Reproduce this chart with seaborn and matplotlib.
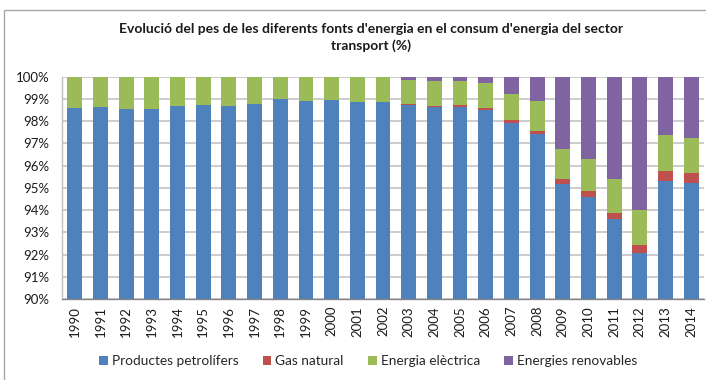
import matplotlib
matplotlib.use("Agg")
import matplotlib.pyplot as plt
from matplotlib.patches import Rectangle, Patch
from matplotlib.ticker import FuncFormatter
import numpy as np
import pandas as pd
import seaborn as sns

# Shares of each energy source in transport energy consumption (%)
years = [str(y) for y in range(1990, 2015)]
petroliferos = [98.61, 98.62, 98.55, 98.56, 98.67, 98.74, 98.70, 98.79, 99.01, 98.91,
                98.95, 98.87, 98.86, 98.71, 98.65, 98.65, 98.52, 97.90, 97.41, 95.19,
                94.57, 93.58, 92.05, 95.32, 95.23]
gas_natural = [0.00, 0.00, 0.00, 0.00, 0.00, 0.00, 0.00, 0.00, 0.00, 0.00,
               0.00, 0.00, 0.01, 0.04, 0.05, 0.06, 0.09, 0.15, 0.16, 0.19,
               0.30, 0.31, 0.39, 0.45, 0.43]
electrica = [1.39, 1.38, 1.45, 1.44, 1.33, 1.26, 1.30, 1.21, 0.99, 1.09,
             1.05, 1.13, 1.10, 1.10, 1.11, 1.08, 1.12, 1.17, 1.32, 1.37,
             1.41, 1.52, 1.56, 1.62, 1.58]
renovables = [0.00, 0.00, 0.00, 0.00, 0.00, 0.00, 0.00, 0.00, 0.00, 0.00,
              0.00, 0.00, 0.03, 0.15, 0.19, 0.21, 0.27, 0.78, 1.11, 3.25,
              3.72, 4.59, 6.00, 2.61, 2.76]

labels = ["Productes petrolífers", "Gas natural", "Energia elèctrica", "Energies renovables"]
colors = ["#4F81BD", "#C0504D", "#9BBB59", "#8064A2"]

# Cumulative tops for the stacked bars
series = [petroliferos, gas_natural, electrica, renovables]
cum = np.cumsum(np.array(series), axis=0)
frames = []
for lab, vals in zip(labels, cum):
    frames.append(pd.DataFrame({"any": years, "font": lab, "valor": vals}))
df = pd.concat(frames, ignore_index=True)

sns.set_theme(style="white")
plt.rcParams["font.family"] = ["Lato", "DejaVu Sans"]

fig = plt.figure(figsize=(7.06, 3.80), dpi=100)
ax = fig.add_axes([62 / 706, 1 - 299 / 380, 642 / 706, (299 - 76.7) / 380])

# Draw the tallest (cumulative) layer first so lower layers sit on top
sns.barplot(data=df, x="any", y="valor", hue="font",
            hue_order=labels[::-1], palette=dict(zip(labels, colors)),
            dodge=False, width=0.58, linewidth=0, saturation=1,
            legend=False, ax=ax, zorder=2)

ax.set_ylim(90, 100)
ax.set_xlim(-0.5, len(years) - 0.5)
ax.set_yticks(np.arange(90, 100.1, 1))
ax.yaxis.set_major_formatter(FuncFormatter(lambda v, p: f"{v:.0f}%"))
ax.grid(axis="y", color="#BFBFBF", linewidth=1.1)
ax.set_axisbelow(True)
ax.set_xlabel("")
ax.set_ylabel("")
for s in ["top", "right"]:
    ax.spines[s].set_visible(False)
ax.spines["left"].set_color("#BFBFBF")
ax.spines["bottom"].set_color("#868686")
ax.spines["left"].set_linewidth(1.0)
ax.spines["bottom"].set_linewidth(1.0)
ax.tick_params(axis="y", length=0, pad=9, labelsize=9.5, labelcolor="#1a1a1a")
ax.tick_params(axis="x", length=0, pad=5, labelsize=9.5, labelcolor="#1a1a1a")
plt.setp(ax.get_xticklabels(), rotation=90)

fig.text(371 / 706, 1 - 37.5 / 380,
         "Evolució del pes de les diferents fonts d'energia en el consum d'energia del sector\ntransport (%)",
         ha="center", va="center", fontsize=10, fontweight="bold", color="#1a1a1a",
         linespacing=1.45)

handles = [Patch(facecolor=c, edgecolor="none") for c in colors]
fig.legend(handles, labels, loc="center", bbox_to_anchor=(368 / 706, 1 - 361 / 380),
           ncol=4, frameon=False, fontsize=9.8, handlelength=0.65, handleheight=0.65,
           handletextpad=0.3, columnspacing=1.75, borderaxespad=0)

# Chart-area border
fig.patches.append(Rectangle((4 / 706, -0.01), 1.0, 1 - 10 / 380 + 0.01,
                             transform=fig.transFigure, fill=False,
                             edgecolor="#A6A6A6", linewidth=1.0, zorder=0))

fig.savefig("out.png", dpi=100)
